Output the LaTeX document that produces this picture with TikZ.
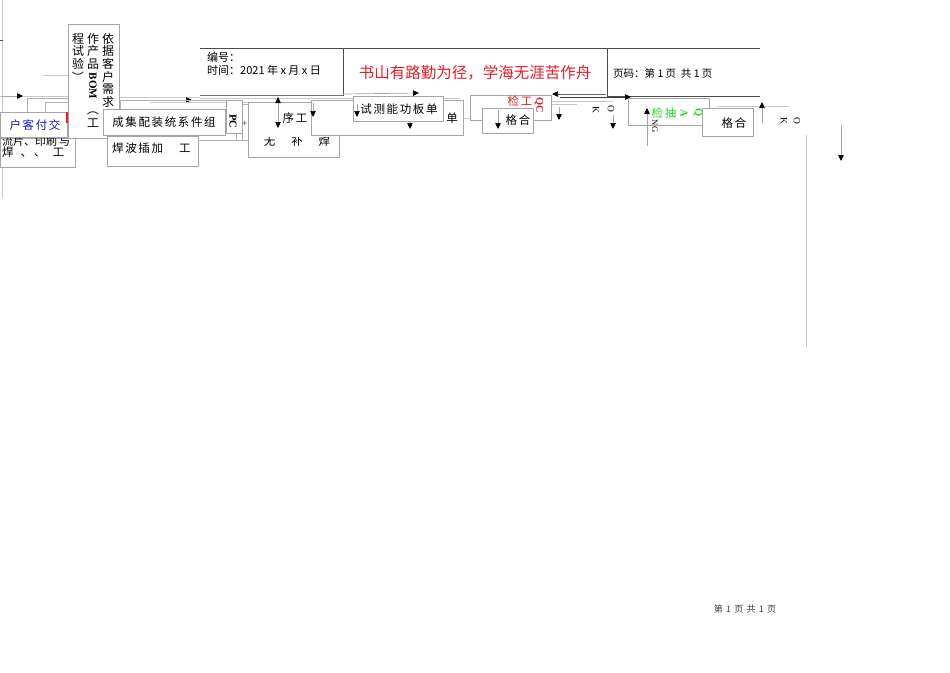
\documentclass[tikz,border=0pt]{standalone}
\usepackage{fontspec}
\setmainfont{Liberation Serif}
\newfontfamily\cjk{Noto Sans CJK SC}
\newfontfamily\cjks[LetterSpace=14]{Noto Sans CJK SC}
\usetikzlibrary{arrows.meta}
\definecolor{tred}{RGB}{228,30,36}
\definecolor{tgreen}{RGB}{40,215,40}
\definecolor{tblue}{RGB}{20,20,210}
\tikzset{
  box/.style={draw=black!35, fill=white, line width=0.7pt, inner sep=0pt, anchor=north west},
  boxline/.style={draw=black!30, line width=0.6pt},
  ln/.style={draw=black!22, line width=0.9pt},
  hd/.style={draw=black!70, line width=0.8pt},
  arrtip/.style={-{Triangle[length=6pt,width=5.5pt,color=black]}},
  arr/.style={draw=black!35, line width=0.7pt, arrtip},
  lbl/.style={inner sep=0pt, font=\cjks\fontsize{11.5}{13}\selectfont},
  hdr/.style={inner sep=0pt, anchor=west, font=\cjk\fontsize{11}{12}\selectfont},
  rt/.style={inner sep=0pt, rotate=-90, font=\rmfamily\bfseries\fontsize{10.5}{12}\selectfont},
  rtl/.style={inner sep=0pt, rotate=-90, font=\rmfamily\fontsize{9.5}{11}\selectfont},
  chr/.style={inner sep=0pt, font=\cjk\fontsize{12}{12}\selectfont},
}
\newcommand\bx[5]{\node[box, minimum width=#4pt, minimum height=#5pt] (#1) at (#2,#3) {};}
\begin{document}
\begin{tikzpicture}[x=1pt,y=-1pt]
\fill[white] (0,0) rectangle (950,672);
\useasboundingbox (0,0) rectangle (950,672);

% stray lines
\draw[ln] (2,0) -- (2,198);
\draw[hd] (0,40) -- (3,40);
\draw[ln] (43,75) -- (68,75);
\draw[ln] (0,96) -- (70,96);
\draw[arr] (2,96) -- (23,96);
\draw[ln] (119,97) -- (200,97);
\draw[arr] (150,100) -- (192,100);
\draw[ln] (150,102) -- (255,102);
\draw[ln] (200,98) -- (460,98);
\draw[ln] (483,101) -- (613,101);
\draw[ln] (483,104) -- (577,104);
\draw[ln] (463,118) -- (482,118);

% header
\draw[hd] (200,48) -- (760,48);
\draw[hd] (343,48) -- (343,96);
\draw[hd] (607,48) -- (607,96);
\draw[hd, draw=black!55] (200,95) -- (343,95);
\draw[hd] (607,96) -- (760,96);
\node[hdr] (hn) at (207,57) {编号：};
\node[hdr] (ht) at (207,70) {时间：2021 年 x 月 x 日};
\node[inner sep=0pt, font=\cjk\fontsize{15.5}{17}\selectfont, text=tred] (title) at (475,73) {书山有路勤为径，学海无涯苦作舟};
\node[hdr, font=\cjk\fontsize{10.5}{12}\selectfont] (pg) at (613,73) {页码：第 1 页\ \ 共 1 页};

% left cluster
\draw[boxline] (27,98) rectangle (75,138);
\draw[boxline] (45,102) rectangle (70,138);
\bx{bA}{0}{138}{75}{29}
\node[inner sep=0pt, anchor=west, font=\cjk\fontsize{11}{12}\selectfont] (tA1) at (2,141) {流片、印刷\hspace{2pt}与};
\node[lbl, anchor=west] (tA2) at (2,152) {焊\hspace{7pt}、\hspace{2pt}、\hspace{7pt}工};
\bx{bC}{0}{112}{67}{25}
\node[lbl, text=tblue] (tC) at (35,125) {户客付交};
\draw[tred, line width=1.5pt] (67,112) -- (67,123);

\bx{bD}{68}{24}{51}{114}
\foreach \ch [count=\i] in {依,据,客,户,需,求,·}
  \node[chr] (cA\i) at (108,{26+12.7*\i}) {\ch};
\foreach \ch [count=\i] in {作,产,品}
  \node[chr] (cB\i) at (93,{26+12.7*\i}) {\ch};
\node[rt, font=\rmfamily\bfseries\fontsize{11}{12}\selectfont] (cBom) at (93,86) {BOM};
\node[chr, rotate=-90] (cBp) at (93,109) {（};
\node[chr] (cBg) at (93,123) {工};
\foreach \ch [count=\i] in {程,试,验}
  \node[chr] (cC\i) at (78,{26+12.7*\i}) {\ch};
\node[chr, rotate=-90] (cCp) at (78,77) {）};

\draw[boxline] (120,100) rectangle (242,140);
\bx{bB}{107}{136}{91}{30}
\node[lbl, anchor=west] (tB) at (112,148) {焊波插加\hspace{16pt}工};
\bx{bE}{103}{109}{122}{26}
\node[lbl] (tE) at (164,122) {成集配装统系件组};

\draw[boxline] (236,104) rectangle (250,140);
\bx{bF}{226}{100}{16}{33}
\node[rt] (tF) at (233,121) {PC};
\node[inner sep=0pt, font=\rmfamily\fontsize{9}{10}\selectfont] (tplus) at (245,124) {+};

% process box
\bx{bG}{248}{102}{91}{55}
\node[lbl] (tG) at (295,118) {序工};
\begin{scope}
\clip (248,137) rectangle (339,157);
\node[lbl] (tG2) at (297,141) {无\hspace{16pt}补\hspace{16pt}焊};
\end{scope}
\coordinate (dA) at (278,97);
\coordinate (dB) at (278,128);
\draw[draw=black!35, line width=0.7pt, {Triangle[length=6pt,width=5.5pt,color=black]}-{Triangle[length=6pt,width=5.5pt,color=black]}] (dA) -- (dB);

\bx{bH}{311}{100}{152}{35}
\node[lbl] (tH) at (452,118) {单};
\draw[arr] (313,103) -- (313,117);
\draw[arr] (410,110) -- (410,129);
\draw[arr] (343,94) -- (419,93);

\bx{bI}{353}{96}{90}{25}
\node[lbl] (tI) at (399,109) {试测能功板单};
\draw[arr] (357,104) -- (357,117);

% QC
\bx{bJ}{470}{95}{81}{25}
\node[lbl, text=tred] (tJ) at (520,101) {检工};
\node[rt, text=tred] (tJ2) at (539,105) {QC};
\bx{bK}{482}{108}{51}{25}
\node[lbl] (tK) at (518,120) {格合};
\draw[arr] (498,110) -- (498,129);
\draw[arr] (559,107) -- (559,120);
\draw[arr, draw=black!60] (606,94) -- (552,94);
\draw[arr, draw=black!75] (560,97) -- (631,97);
\node[rtl] (ok1k) at (596,110) {K};
\node[rtl] (ok1o) at (611,109) {O};
\draw[arr] (613,115) -- (613,129);

% QA
\bx{bL}{628}{98}{81}{27}
\node[lbl, text=tgreen] (tL) at (664,113) {检抽};
\node[rt, text=tgreen] (tLa) at (684,113) {A};
\node[rt, text=tgreen] (tLq) at (698,113) {Q};
\node[rtl, font=\rmfamily\fontsize{8.5}{10}\selectfont] (ng) at (655,126) {NG};
\draw[arr] (647,146) -- (647,108);

\bx{bM}{702}{108}{51}{28}
\node[lbl] (tM) at (734,123) {格合};
\draw[ln] (717,106) -- (789,106);
\draw[arr] (762,123) -- (762,102);
\node[rtl] (ok2k) at (784,121) {K};
\node[rtl] (ok2o) at (797,121) {O};
\draw[arr] (841,125) -- (841,161);
\draw[ln] (806,135) -- (806,347);

% footer
\node[inner sep=0pt, font=\cjks\fontsize{9}{10}\selectfont, text=black!75] (foot) at (745,609) {第 1 页 共 1 页};
\end{tikzpicture}
\end{document}
